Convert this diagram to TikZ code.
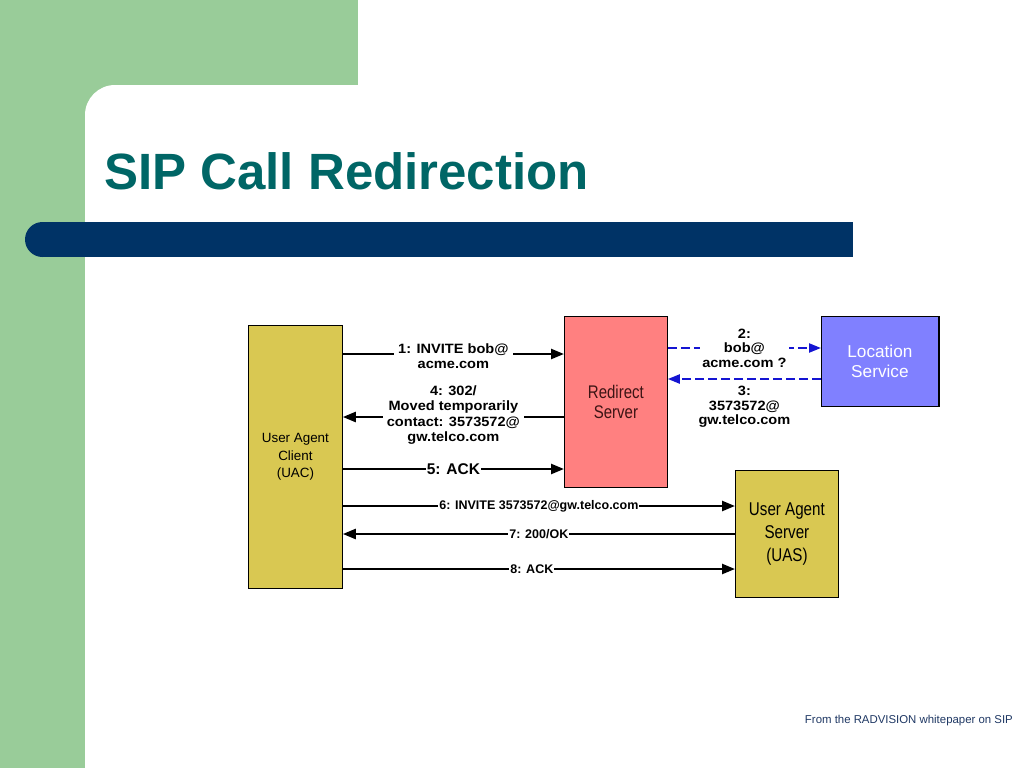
\documentclass[tikz,border=0pt]{standalone}
\usepackage{fontspec}
\setmainfont{Liberation Sans}
\newfontfamily\narrowfont{Liberation Sans}[FakeStretch=0.82]
\newfontfamily\widefont{Liberation Sans}[FakeStretch=1.08]
\usetikzlibrary{arrows.meta}
\definecolor{bggreen}{RGB}{153,204,153}
\definecolor{barblue}{RGB}{0,51,102}
\definecolor{titleteal}{RGB}{0,102,102}
\definecolor{boxyellow}{RGB}{217,200,82}
\definecolor{boxpink}{RGB}{255,128,128}
\definecolor{boxlav}{RGB}{128,128,255}
\definecolor{dashblue}{RGB}{20,20,210}
\definecolor{footnavy}{RGB}{31,56,100}
\tikzset{
  box/.style={draw=black, line width=0.8pt, inner sep=0pt, anchor=north west, align=center},
  msg/.style={line width=2.4pt, -{Triangle[length=13pt,width=10pt]}},
  dmsg/.style={line width=2.2pt, dashblue, dash pattern=on 9pt off 4pt, -{Triangle[length=12pt,width=9pt]}},
  lbl/.style={fill=white, inner xsep=4pt, inner ysep=1pt, align=center, text=black,
    font=\widefont\fontsize{13.5}{15.3}\selectfont\bfseries},
  lblb/.style={fill=white, inner xsep=1pt, inner ysep=1pt, align=center, text=black,
    font=\fontsize{12.5}{14}\selectfont\bfseries},
}
\begin{document}
\begin{tikzpicture}[x=1pt,y=-1pt]
\useasboundingbox (0,0) rectangle (1024,768);
\begin{scope}
\clip (0,0) rectangle (1024,768);
\fill[white] (0,0) rectangle (1024,768);
\fill[bggreen] (0,0) rectangle (358,125);
\fill[bggreen] (0,0) rectangle (125,768);
\fill[white, rounded corners=30pt] (85,85) rectangle (1100,860);
\end{scope}
% bar
\fill[barblue] (42.5,222) rectangle (853,257);
\fill[barblue] (42.5,239.5) circle[radius=17.5];
% title
\node[anchor=base west, inner sep=0pt, text=titleteal,
  font=\fontsize{51}{51}\selectfont\bfseries] (title) at (104,189) {SIP Call Redirection};
% boxes
\node[box, fill=boxyellow, minimum width=94, minimum height=263,
  font=\fontsize{13.4}{17.5}\selectfont] (uac) at (248,325) {User Agent\\Client\\(UAC)};
\node[box, fill=boxpink, minimum width=103, minimum height=171,
  font=\narrowfont\fontsize{18.3}{20}\selectfont, text={rgb,255:red,60;green,20;blue,20}] (rs) at (564,316) {Redirect\\Server};
\node[box, fill=boxlav, minimum width=117, minimum height=90, text=white,
  font=\fontsize{17.2}{20}\selectfont] (ls) at (821,316) {Location\\Service};
\draw[line width=2.5pt] (ls.north east) -- (ls.south east);
\node[box, fill=boxyellow, minimum width=103, minimum height=127,
  font=\narrowfont\fontsize{18.5}{23}\selectfont] (uas) at (735,470) {User Agent\\Server\\(UAS)};
% rows
\coordinate (r1) at (0,354);
\coordinate (r4) at (0,417);
\coordinate (r5) at (0,469);
\coordinate (r2) at (0,348);
\coordinate (r3) at (0,379);
\coordinate (r6) at (0,506);
\coordinate (r7) at (0,534);
\coordinate (r8) at (0,569);
% messages
\draw[msg] (uac.east |- r1) -- node[lbl, yshift=-2.5pt] (l1) {1: INVITE bob@\\acme.com} (rs.west |- r1);
\draw[msg] (rs.west |- r4) -- node[lbl, yshift=2pt] (l4) {4: 302/\\Moved temporarily\\contact: 3573572@\\gw.telco.com} (uac.east |- r4);
\draw[msg] (uac.east |- r5) -- node[lbl, inner xsep=1pt, font=\fontsize{15.5}{17}\selectfont\bfseries] (l5) {5: ACK} (rs.west |- r5);
\draw[dmsg] (rs.east |- r2) -- node[lbl, inner xsep=2pt, font=\widefont\fontsize{13.5}{14.5}\selectfont\bfseries] (l2) {2:\\bob@\\acme.com ?} (ls.west |- r2);
\draw[dmsg] (ls.west |- r3) -- node[lbl, fill=none, anchor=north, yshift=-5pt, font=\widefont\fontsize{13.5}{14.5}\selectfont\bfseries] (l3) {3:\\3573572@\\gw.telco.com} (rs.east |- r3);
\draw[msg] (uac.east |- r6) -- node[lblb] (l6) {6: INVITE 3573572@gw.telco.com} (uas.west |- r6);
\draw[msg] (uas.west |- r7) -- node[lblb] (l7) {7: 200/OK} (uac.east |- r7);
\draw[msg] (uac.east |- r8) -- node[lblb, xshift=-7pt] (l8) {8: ACK} (uas.west |- r8);
% footer
\node[anchor=base east, inner sep=0pt, text=footnavy, font=\fontsize{11.4}{13}\selectfont] (foot) at (1013,723) {From the RADVISION whitepaper on SIP};
\end{tikzpicture}
\end{document}
